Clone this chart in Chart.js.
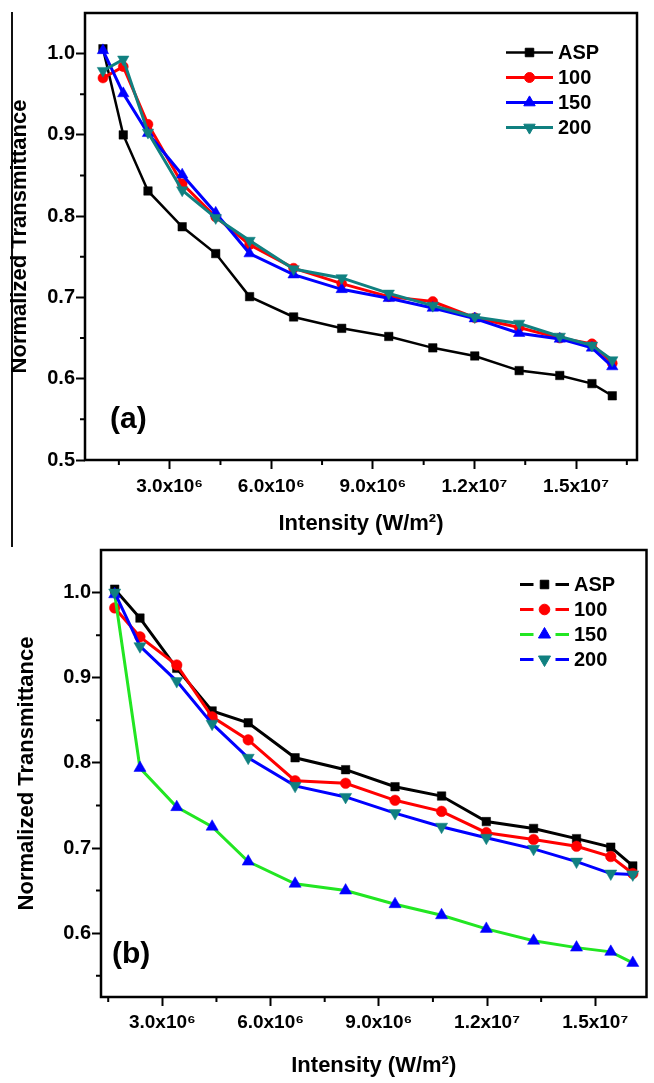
<!DOCTYPE html>
<html>
<head>
<meta charset="utf-8">
<script src="https://cdn.jsdelivr.net/npm/chart.js@4.4.0/dist/chart.umd.min.js"></script>
<style>
    body {
        margin: 0;
        background: #fff;
        width: 654px;
        height: 1083px;
        position: relative;
        overflow: hidden;
        font-family: "Liberation Sans", Arial, sans-serif;
    }
    canvas {
        position: absolute;
        left: 0;
    }
    #chartA { top: 0; }
    #chartB { top: 535px; }
    .edge {
        position: absolute;
        left: 11px;
        top: 12px;
        width: 1.5px;
        height: 535px;
        background: #111;
    }
    .tag {
        position: absolute;
        font-weight: bold;
        font-size: 30px;
        line-height: 1;
        color: #000;
    }
</style>
</head>
<body>
<div class="edge"></div>
<canvas id="chartA" width="654" height="545"></canvas>
<canvas id="chartB" width="654" height="548"></canvas>
<div class="tag" style="left:110px; top:403px;">(a)</div>
<div class="tag" style="left:112px; top:938px;">(b)</div>

<script>
// ---- data ----
var seriesNames = ["ASP", "100", "150", "200"];

// panel (a)
var intensityA = [1.03e6, 1.63e6, 2.36e6, 3.37e6, 4.36e6, 5.36e6, 6.66e6, 8.08e6,
    9.47e6, 10.77e6, 12.01e6, 13.32e6, 14.52e6, 15.47e6, 16.07e6];
var aspA = [1.006, 0.900, 0.831, 0.787, 0.754, 0.701, 0.676, 0.662, 0.652, 0.638, 0.628, 0.610, 0.604, 0.594, 0.579];
var s100A = [0.970, 0.984, 0.913, 0.840, 0.799, 0.765, 0.736, 0.717, 0.701, 0.695, 0.675, 0.663, 0.650, 0.643, 0.619];
var s150A = [1.004, 0.951, 0.902, 0.851, 0.804, 0.754, 0.728, 0.710, 0.699, 0.687, 0.674, 0.656, 0.649, 0.638, 0.615];
var s200A = [0.979, 0.993, 0.903, 0.832, 0.798, 0.770, 0.735, 0.724, 0.705, 0.690, 0.676, 0.668, 0.652, 0.641, 0.623];

// panel (b)
var intensityB = [1.68e6, 2.38e6, 3.40e6, 4.38e6, 5.38e6, 6.68e6, 8.08e6,
    9.45e6, 10.74e6, 11.98e6, 13.29e6, 14.48e6, 15.43e6, 16.04e6];
var aspB = [1.004, 0.970, 0.911, 0.861, 0.847, 0.806, 0.792, 0.772, 0.761, 0.731, 0.723, 0.711, 0.701, 0.679];
var s100B = [0.982, 0.948, 0.915, 0.854, 0.827, 0.779, 0.776, 0.756, 0.743, 0.718, 0.710, 0.702, 0.690, 0.670];
var s150B = [0.998, 0.794, 0.748, 0.725, 0.684, 0.658, 0.650, 0.634, 0.621, 0.605, 0.591, 0.583, 0.578, 0.565];
var s200B = [1.000, 0.937, 0.896, 0.846, 0.806, 0.773, 0.760, 0.741, 0.725, 0.712, 0.699, 0.684, 0.670, 0.669];

// axes
var xTickValues = [3e6, 6e6, 9e6, 1.2e7, 1.5e7];
var xTickLabels = ["3.0x10\u2076", "6.0x10\u2076", "9.0x10\u2076", "1.2x10\u2077", "1.5x10\u2077"];
var xMinorTicks = [1.5e6, 4.5e6, 7.5e6, 10.5e6, 13.5e6, 16.5e6];
var yTickValuesA = [0.5, 0.6, 0.7, 0.8, 0.9, 1.0];
var yTickLabelsA = ["0.5", "0.6", "0.7", "0.8", "0.9", "1.0"];
var yTickValuesB = [0.6, 0.7, 0.8, 0.9, 1.0];
var yTickLabelsB = ["0.6", "0.7", "0.8", "0.9", "1.0"];
var yMinorTicks = [0.55, 0.65, 0.75, 0.85, 0.95];

var fontFamily = '"Liberation Sans", Arial, sans-serif';

function toPoints(xs, ys) {
    return xs.map(function (x, i) {
        return { x: x, y: ys[i] };
    });
}

//- frame, minor ticks and the in-plot legend -
var extrasPlugin = {
    id: "extras",
    afterDraw: function (chart, args, opts) {
        var ctx = chart.ctx;
        var area = chart.chartArea;
        var xs = chart.scales.x;
        var ys = chart.scales.y;
        ctx.save();

        ctx.strokeStyle = "#000";
        ctx.lineWidth = 2;
        ctx.beginPath();
        opts.xMinor.forEach(function (v) {
            if (v <= xs.min || v >= xs.max) return;
            var px = xs.getPixelForValue(v);
            ctx.moveTo(px, area.bottom);
            ctx.lineTo(px, area.bottom + 5);
        });
        opts.yMinor.forEach(function (v) {
            if (v <= ys.min || v >= ys.max) return;
            var py = ys.getPixelForValue(v);
            ctx.moveTo(area.left, py);
            ctx.lineTo(area.left - 5, py);
        });
        ctx.stroke();

        ctx.lineWidth = 2.5;
        ctx.strokeRect(area.left, area.top, area.right - area.left, area.bottom - area.top);

        // legend
        chart.data.datasets.forEach(function (ds, i) {
            var y = opts.legendTop + i * opts.legendGap;
            var mid = (opts.legendX1 + opts.legendX2) / 2;
            ctx.strokeStyle = ds.borderColor;
            ctx.lineWidth = ds.borderWidth;
            ctx.beginPath();
            if (opts.legendBreak) {
                ctx.moveTo(opts.legendX1, y);
                ctx.lineTo(mid - opts.legendBreak, y);
                ctx.moveTo(mid + opts.legendBreak, y);
                ctx.lineTo(opts.legendX2, y);
            } else {
                ctx.moveTo(opts.legendX1, y);
                ctx.lineTo(opts.legendX2, y);
            }
            ctx.stroke();

            ctx.fillStyle = ds.pointBackgroundColor;
            ctx.strokeStyle = ds.pointBackgroundColor;
            ctx.lineWidth = 1;
            Chart.helpers.drawPoint(ctx, {
                pointStyle: ds.pointStyle,
                rotation: ds.pointRotation || 0,
                radius: ds.pointRadius,
                borderWidth: 1
            }, mid, y);

            ctx.fillStyle = "#000";
            ctx.font = "bold 20px " + fontFamily;
            ctx.textAlign = "left";
            ctx.textBaseline = "middle";
            ctx.fillText(ds.label, opts.legendX2 + 5, y + 1);
        });
        ctx.restore();
    }
};

function buildChart(canvasId, datasets, s) {
    var canvas = document.getElementById(canvasId).getContext("2d");
    return new Chart(canvas, {
        type: "scatter",
        data: { datasets: datasets },
        options: {
            responsive: false,
            animation: false,
            devicePixelRatio: 1,
            layout: { padding: s.padding },
            elements: { line: { tension: 0 } },
            plugins: {
                legend: { display: false },
                tooltip: { enabled: false },
                extras: s.extras
            },
            scales: {
                x: {
                    type: "linear",
                    min: s.xMin,
                    max: s.xMax,
                    afterBuildTicks: function (scale) {
                        scale.ticks = xTickValues.map(function (v) { return { value: v }; });
                    },
                    afterFit: function (scale) { scale.height = s.xHeight; },
                    border: { display: false },
                    grid: {
                        display: true,
                        drawOnChartArea: false,
                        drawTicks: true,
                        tickLength: 9,
                        tickWidth: 2,
                        tickColor: "#000"
                    },
                    ticks: {
                        color: "#000",
                        padding: s.xTickPad,
                        maxRotation: 0,
                        autoSkip: false,
                        font: { family: fontFamily, size: 19, weight: "bold" },
                        callback: function (v) {
                            return xTickLabels[xTickValues.indexOf(v)];
                        }
                    },
                    title: {
                        display: true,
                        text: "Intensity (W/m\u00B2)",
                        color: "#000",
                        font: { family: fontFamily, size: 22, weight: "bold" },
                        padding: { top: 0, bottom: s.xTitlePad }
                    }
                },
                y: {
                    type: "linear",
                    min: s.yMin,
                    max: s.yMax,
                    afterBuildTicks: function (scale) {
                        scale.ticks = s.yTicks.map(function (v) { return { value: v }; });
                    },
                    afterFit: function (scale) { scale.width = s.yWidth; },
                    border: { display: false },
                    grid: {
                        display: true,
                        drawOnChartArea: false,
                        drawTicks: true,
                        tickLength: 9,
                        tickWidth: 2,
                        tickColor: "#000"
                    },
                    ticks: {
                        color: "#000",
                        padding: 1,
                        font: { family: fontFamily, size: 20, weight: "bold" },
                        callback: function (v) {
                            return s.yLabels[s.yTicks.indexOf(v)];
                        }
                    },
                    title: {
                        display: true,
                        text: "Normalized Transmittance",
                        color: "#000",
                        font: { family: fontFamily, size: 22, weight: "bold" },
                        padding: { top: s.yTitlePad, bottom: 0 }
                    }
                }
            }
        },
        plugins: [extrasPlugin]
    });
}

//-------------
//- PANEL (a) -
//-------------
var setsA = [
    {
        label: seriesNames[0], data: toPoints(intensityA, aspA), showLine: true, order: 3,
        borderColor: "#000000", borderWidth: 2.5,
        pointStyle: "rect", pointRadius: 6,
        pointBackgroundColor: "#000000", pointBorderColor: "#000000", pointBorderWidth: 0.5
    },
    {
        label: seriesNames[1], data: toPoints(intensityA, s100A), showLine: true, order: 2,
        borderColor: "#ff0000", borderWidth: 3,
        pointStyle: "circle", pointRadius: 5,
        pointBackgroundColor: "#ff0000", pointBorderColor: "#ff0000", pointBorderWidth: 0.5
    },
    {
        label: seriesNames[2], data: toPoints(intensityA, s150A), showLine: true, order: 1,
        borderColor: "#0000ff", borderWidth: 3,
        pointStyle: "triangle", pointRadius: 6.6,
        pointBackgroundColor: "#0000ff", pointBorderColor: "#0000ff", pointBorderWidth: 0.5
    },
    {
        label: seriesNames[3], data: toPoints(intensityA, s200A), showLine: true, order: 0,
        borderColor: "#108080", borderWidth: 3,
        pointStyle: "triangle", pointRotation: 180, pointRadius: 6.6,
        pointBackgroundColor: "#108080", pointBorderColor: "#108080", pointBorderWidth: 0.5
    }
];

buildChart("chartA", setsA, {
    padding: { top: 13, right: 17, left: 0, bottom: 0 },
    xMin: 0.5e6, xMax: 16.8e6,
    yMin: 0.5, yMax: 1.05,
    yTicks: yTickValuesA, yLabels: yTickLabelsA,
    xHeight: 85, yWidth: 85,
    xTickPad: 6, xTitlePad: 8, yTitlePad: 7,
    extras: {
        xMinor: xMinorTicks, yMinor: yMinorTicks,
        legendTop: 52.5, legendGap: 25, legendX1: 506, legendX2: 553,
        legendBreak: 0
    }
});

//-------------
//- PANEL (b) -
//-------------
var setsB = [
    {
        label: seriesNames[0], data: toPoints(intensityB, aspB), showLine: true, order: 3,
        borderColor: "#000000", borderWidth: 3,
        pointStyle: "rect", pointRadius: 6,
        pointBackgroundColor: "#000000", pointBorderColor: "#000000", pointBorderWidth: 0.5
    },
    {
        label: seriesNames[1], data: toPoints(intensityB, s100B), showLine: true, order: 2,
        borderColor: "#ff0000", borderWidth: 3,
        pointStyle: "circle", pointRadius: 5.3,
        pointBackgroundColor: "#ff0000", pointBorderColor: "#ff0000", pointBorderWidth: 0.5
    },
    {
        label: seriesNames[2], data: toPoints(intensityB, s150B), showLine: true, order: 1,
        borderColor: "#22e622", borderWidth: 3,
        pointStyle: "triangle", pointRadius: 7,
        pointBackgroundColor: "#0000ff", pointBorderColor: "#0000ff", pointBorderWidth: 0.5
    },
    {
        label: seriesNames[3], data: toPoints(intensityB, s200B), showLine: true, order: 0,
        borderColor: "#0000ff", borderWidth: 3,
        pointStyle: "triangle", pointRotation: 180, pointRadius: 7,
        pointBackgroundColor: "#108080", pointBorderColor: "#108080", pointBorderWidth: 0.5
    }
];

buildChart("chartB", setsB, {
    padding: { top: 15, right: 3, left: 0, bottom: 0 },
    xMin: 1.3e6, xMax: 16.42e6,
    yMin: 0.525, yMax: 1.05,
    yTicks: yTickValuesB, yLabels: yTickLabelsB,
    xHeight: 86, yWidth: 101,
    xTickPad: 5, xTitlePad: 4, yTitlePad: 14,
    extras: {
        xMinor: xMinorTicks, yMinor: yMinorTicks,
        legendTop: 49.5, legendGap: 25, legendX1: 520, legendX2: 569,
        legendBreak: 11
    }
});
</script>
</body>
</html>
